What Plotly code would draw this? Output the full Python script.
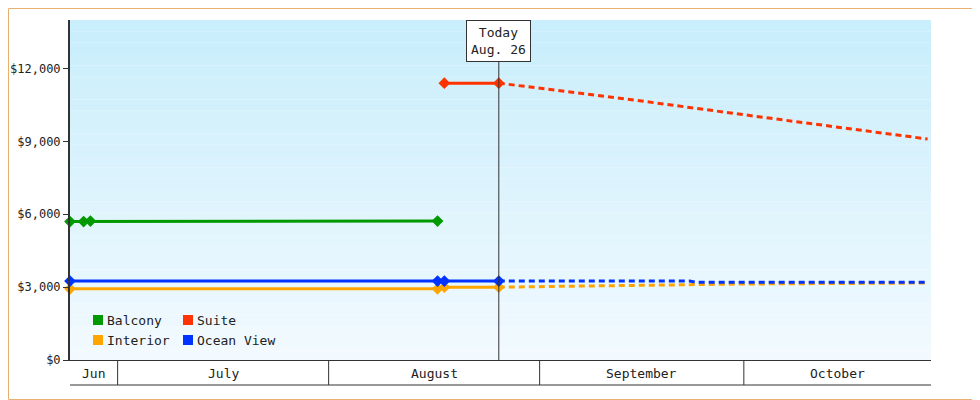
import plotly.graph_objects as go
import pandas as pd

FONT = "DejaVu Sans Mono"
today = "2024-08-26"

balcony_x = ["2024-06-24", "2024-06-26", "2024-06-27", "2024-08-17"]
balcony_y = [5700, 5700, 5720, 5720]
suite_x = ["2024-08-18", "2024-08-26"]
suite_y = [11400, 11400]
suite_fx = ["2024-08-26", "2024-09-15", "2024-10-05", "2024-10-28"]
suite_fy = [11400, 10700, 9950, 9100]
ocean_x = ["2024-06-24", "2024-08-17", "2024-08-18", "2024-08-26"]
ocean_y = [3250, 3250, 3250, 3250]
ocean_fx = ["2024-08-26", "2024-09-23", "2024-09-24", "2024-10-28"]
ocean_fy = [3250, 3250, 3200, 3200]
interior_x = ["2024-06-24", "2024-08-17", "2024-08-18", "2024-08-26"]
interior_y = [2930, 2930, 3000, 3000]
interior_fx = ["2024-08-26", "2024-09-01", "2024-09-10", "2024-10-01", "2024-10-28"]
interior_fy = [3000, 3020, 3080, 3130, 3170]

months = ["Jun", "July", "August", "September", "October"]
month_bounds = ["2024-06-24", "2024-07-01", "2024-08-01", "2024-09-01", "2024-10-01", "2024-10-28 12:00"]

colors = {"Balcony": "#009900", "Suite": "#ff3300", "Interior": "#ffa500", "Ocean View": "#0033ff"}

fig = go.Figure()
def solid(x, y, c):
    fig.add_trace(go.Scatter(x=x, y=y, mode="lines+markers", line=dict(color=c, width=3),
                             marker=dict(symbol="diamond", size=9, color=c), showlegend=False, cliponaxis=False))
def fc(x, y, c):
    fig.add_trace(go.Scatter(x=x, y=y, mode="lines", line=dict(color=c, width=3, dash="6px,4px"),
                             showlegend=False))

fc(interior_fx, interior_fy, colors["Interior"])
fc(ocean_fx, ocean_fy, colors["Ocean View"])
fc(suite_fx, suite_fy, colors["Suite"])
solid(interior_x, interior_y, colors["Interior"])
solid(ocean_x, ocean_y, colors["Ocean View"])
solid(balcony_x, balcony_y, colors["Balcony"])
solid(suite_x, suite_y, colors["Suite"])

# page has an 8px body margin: compensate
OFF = 8
W, H = 980 - OFF, 400 - OFF
L, R, T, B = 70 - OFF, 49, 20 - OFF, 40
pw, ph = W - L - R, H - T - B
def px(xp): return (xp - OFF - L) / pw
def py(yp): return (H - B - (yp - OFF)) / ph

shapes = []
N = 30
for i in range(N):
    t = i / (N - 1)
    r = int(0xc9 + (0xf2 - 0xc9) * t); g = int(0xee + (0xfa - 0xee) * t); b = int(0xfc + (0xff - 0xfc) * t)
    shapes.append(dict(type="rect", xref="paper", yref="paper", x0=0, x1=1, y0=1 - (i + 1) / N, y1=1 - i / N,
                       fillcolor=f"rgb({r},{g},{b})", line=dict(width=0), layer="below"))
shapes.append(dict(type="rect", xref="paper", yref="paper", x0=px(8.5), x1=px(979.5), y0=py(399.5), y1=py(8.5),
                   line=dict(color="#e8b070", width=1), layer="above"))
shapes.append(dict(type="line", xref="x", yref="paper", x0=today, x1=today, y0=0, y1=py(62),
                   line=dict(color="#333333", width=1)))
shapes.append(dict(type="line", xref="paper", yref="paper", x0=0, x1=1, y0=py(385), y1=py(385),
                   line=dict(color="#333333", width=1)))
for mb in month_bounds[1:-1]:
    shapes.append(dict(type="line", xref="x", yref="paper", x0=mb, x1=mb, y0=0, y1=py(385),
                       line=dict(color="#333333", width=1)))
anns = []
for i, m in enumerate(months):
    a = pd.Timestamp(month_bounds[i]); b = pd.Timestamp(month_bounds[i + 1])
    anns.append(dict(x=a + (b - a) / 2, y=py(373), xref="x", yref="paper", text=m, showarrow=False,
                     yanchor="middle", font=dict(family=FONT, size=13, color="#222")))
anns.append(dict(x=today, y=py(41), xref="x", yref="paper", text="Today<br>Aug. 26", showarrow=False,
                 yanchor="middle", bgcolor="white", bordercolor="#333", borderwidth=1, borderpad=4,
                 font=dict(family=FONT, size=13, color="#222")))
leg = [("Balcony", 93, 320), ("Suite", 183, 320), ("Interior", 93, 340), ("Ocean View", 183, 340)]
for name, lx, ly in leg:
    shapes.append(dict(type="rect", xref="paper", yref="paper", x0=px(lx), x1=px(lx + 10), y0=py(ly + 5), y1=py(ly - 5),
                       fillcolor=colors[name], line=dict(width=0)))
    anns.append(dict(x=px(lx + 12), y=py(ly), xref="paper", yref="paper", text=name, showarrow=False,
                     xanchor="left", yanchor="middle", font=dict(family=FONT, size=13, color="#222")))

fig.update_layout(width=W, height=H, margin=dict(l=L, r=R, t=T, b=B, autoexpand=False),
                  paper_bgcolor="white", plot_bgcolor="rgba(0,0,0,0)",
                  shapes=shapes, annotations=anns, font=dict(family=FONT, size=13, color="#222"),
                  xaxis=dict(range=[month_bounds[0], month_bounds[-1]], showticklabels=False, showgrid=False,
                             zeroline=False, showline=True, linecolor="#333", linewidth=1, ticks="", automargin=False),
                  yaxis=dict(range=[0, 14000], dtick=3000, tickformat="$,", showgrid=False, zeroline=False,
                             showline=True, linecolor="#333", linewidth=2, ticks="outside", ticklen=5,
                             tickcolor="#333", tickfont=dict(family=FONT, size=12), automargin=False))
fig.write_html("out.html")
